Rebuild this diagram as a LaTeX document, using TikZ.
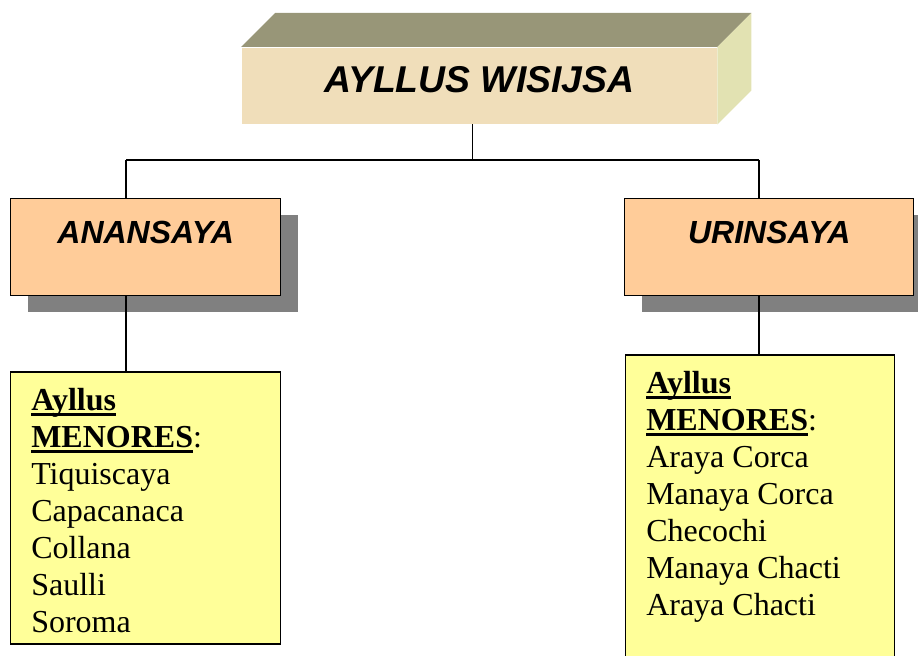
\documentclass[tikz,border=0pt]{standalone}
\usepackage{fontspec}
\setmainfont{Liberation Serif}
\setsansfont{Liberation Sans}
\usetikzlibrary{positioning, shadows, calc}
\definecolor{slabFront}{RGB}{240, 222, 186}
\definecolor{slabTop}{RGB}{152, 150, 120}
\definecolor{slabSide}{RGB}{226, 226, 178}
\definecolor{moietyPeach}{RGB}{255, 204, 153}
\definecolor{listYellow}{RGB}{255, 255, 153}
\definecolor{shadowGray}{RGB}{128, 128, 128}
\newsavebox{\ulbox}
\newcommand{\ulbf}[1]{\sbox{\ulbox}{\textbf{#1}}\rlap{\rule[-3.8pt]{\wd\ulbox}{2pt}}\usebox{\ulbox}}
\tikzset{
    % Base style for all boxes
    box/.style={
        rectangle,
        draw=black,
        line width=1.1pt,
        inner sep=0pt,
        anchor=north west
    },
    % Specific styles
    slab/.style={box, draw=none, fill=slabFront, minimum width=356.25pt,
        text height=33.75pt, text depth=23.25pt,
        font=\sffamily\bfseries\itshape\fontsize{28}{32}\selectfont},
    moiety/.style={box, fill=moietyPeach, minimum width=202.5pt,
        text height=33.75pt, text depth=39pt,
        font=\sffamily\bfseries\itshape\fontsize{24}{28}\selectfont,
        general shadow={fill=shadowGray, shadow xshift=12.75pt, shadow yshift=-12pt}},
    listBox/.style={box, fill=listYellow, minimum width=202.5pt, minimum height=204pt},
    listText/.style={anchor=north west, inner sep=0pt, align=left,
        font=\fontsize{24}{27.75}\selectfont},
    % Connector style
    link/.style={draw=black, line width=0.9pt}
}
\begin{document}
\begin{tikzpicture}[x=0.75pt, y=-0.75pt]
    \useasboundingbox (0,0) rectangle (918,656);

    % --- TOP (the slab) ---
    \node (title) [slab] at (241,47) {AYLLUS WISIJSA};
    \fill [slabTop] (title.north west) -- ++(34,-34)
        -- ($(title.north east)+(34,-34)$) -- (title.north east) -- cycle;
    \fill [slabSide] (title.north east) -- ++(34,-34)
        -- ($(title.south east)+(34,-34)$) -- (title.south east) -- cycle;

    % --- MIDDLE (the two halves) ---
    \node (moietyL) [moiety] at (10,198) {ANANSAYA};
    \node (moietyR) [moiety, minimum width=216.75pt] at (624,198) {URINSAYA};

    % --- BOTTOM (the lists) ---
    \node (listL) [listBox, below=56.25pt of moietyL] {};
    \node (listR) [listBox, minimum width=201.75pt, minimum height=240pt,
        below=43.5pt of moietyR, xshift=-6.75pt] {};

    \node (namesL) [listText] at ($(listL.north west)+(21,17)$) {
        \ulbf{Ayllus}\\
        \ulbf{MENORES}:\\
        Tiquiscaya\\
        Capacanaca\\
        Collana\\
        Saulli\\
        Soroma
    };
    \node (namesR) [listText] at ($(listR.north west)+(21,17)$) {
        \ulbf{Ayllus}\\
        \ulbf{MENORES}:\\
        Araya Corca\\
        Manaya Corca\\
        Checochi\\
        Manaya Chacti\\
        Araya Chacti
    };

    % --- Connectors (tree) ---
    \coordinate (stem) at ($(title.south)+(-7,0)$);
    \coordinate (hubL) at (126,160);
    \coordinate (hubR) at (759,160);
    \draw [link] (stem) -- (stem |- hubL);
    \draw [link] (hubL) -- (hubR);
    \draw [link] (hubL) -- (hubL |- moietyL.north);
    \draw [link] (hubR) -- (hubR |- moietyR.north);
    \draw [link] (hubL |- moietyL.south) -- (hubL |- listL.north);
    \draw [link] (hubR |- moietyR.south) -- (hubR |- listR.north);

\end{tikzpicture}
\end{document}
